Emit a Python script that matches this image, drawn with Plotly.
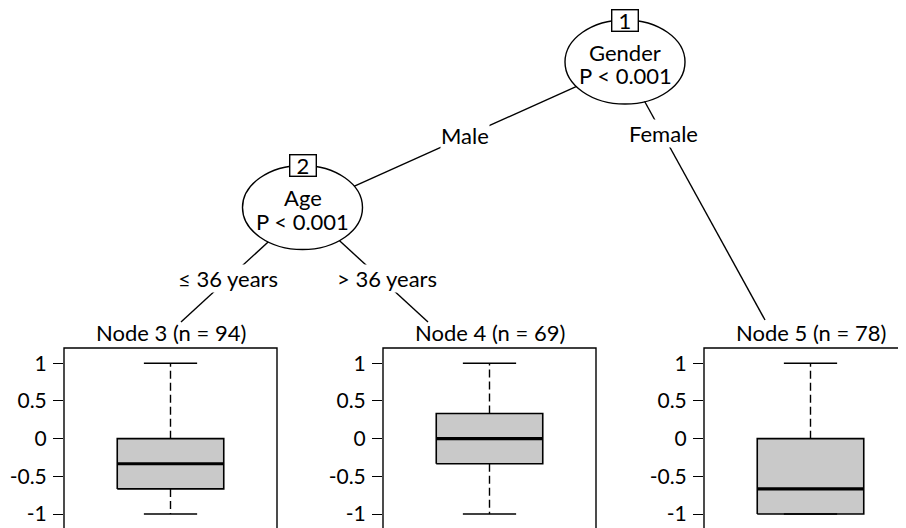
import plotly.graph_objects as go

# Terminal node summaries (response score, boxplot stats)
node_ids = [3, 4, 5]
node_n = [94, 69, 78]
whisk_lo = [-1.0, -1.0, -1.0]
q1 = [-0.667, -0.333, -1.0]
median = [-0.333, 0.0, -0.667]
q3 = [0.0, 0.333, 0.0]
whisk_hi = [1.0, 1.0, 1.0]

y_ticks = [-1, -0.5, 0, 0.5, 1]
y_ticktext = ["-1", "-0.5", "0", "0.5", "1"]

# Inner nodes: id, variable, p-value text
inner_ids = [1, 2]
inner_var = ["Gender", "Age"]
inner_p = ["P < 0.001", "P < 0.001"]

# Edge labels
edge_labels = ["Male", "Female", "\u2264 36 years", "> 36 years"]

# ---- layout geometry (page pixels; the page body has an 8px margin) ----
W, H = 906, 528
OFF = 8
FONT = "Lato"
FS = 22
inner_pos = [(625, 62), (302.5, 207.5)]   # ellipse centres
ell_rx, ell_ry = 60, 42
edge_seg = [((590, 80.4), (345, 190.4)),
            ((641.1, 95), (765, 320)),
            ((272.5, 238), (181, 322)),
            ((335.5, 237), (428, 322))]
edge_lab_pos = [(465, 135), (663, 133), (228, 278), (387, 278)]

panel_px = [(64, 277), (383, 596), (704, 917)]
panel_top = 348
px_per_unit_y = 75.35
y_top = 1 + (363.3 - panel_top) / px_per_unit_y
y_bot = -1 - (H + OFF - 514) / px_per_unit_y

fig = go.Figure()
ink = "black"
lw = 1.4

for i in range(3):
    xa = "x" if i == 0 else f"x{i+1}"
    ya = "y" if i == 0 else f"y{i+1}"
    # box body
    fig.add_trace(go.Scatter(
        x=[-0.5, 0.5, 0.5, -0.5, -0.5],
        y=[q1[i], q1[i], q3[i], q3[i], q1[i]],
        fill="toself", fillcolor="#c9c9c9", mode="lines",
        line=dict(color=ink, width=1.6), xaxis=xa, yaxis=ya, hoverinfo="skip"))
    # median
    fig.add_trace(go.Scatter(x=[-0.5, 0.5], y=[median[i], median[i]], mode="lines",
                             line=dict(color=ink, width=3.2), xaxis=xa, yaxis=ya))
    # whiskers (dashed)
    for a, b in [(q3[i], whisk_hi[i]), (q1[i], whisk_lo[i])]:
        if a != b:
            fig.add_trace(go.Scatter(x=[0, 0], y=[a, b], mode="lines",
                                     line=dict(color=ink, width=lw, dash="8px,4px"),
                                     xaxis=xa, yaxis=ya))
    # caps
    for v in (whisk_hi[i], whisk_lo[i]):
        fig.add_trace(go.Scatter(x=[-0.25, 0.25], y=[v, v], mode="lines",
                                 line=dict(color=ink, width=lw), xaxis=xa, yaxis=ya))

# tree edges on overlay axis
for (p0, p1) in edge_seg:
    fig.add_trace(go.Scatter(x=[p0[0], p1[0]], y=[p0[1], p1[1]], mode="lines",
                             line=dict(color=ink, width=lw), xaxis="x4", yaxis="y4"))

layout = dict(
    width=W, height=H, margin=dict(l=0, r=0, t=0, b=0),
    paper_bgcolor="white", plot_bgcolor="rgba(0,0,0,0)",
    showlegend=False, font=dict(family=FONT, size=FS, color=ink),
    xaxis4=dict(domain=[0, 1], range=[OFF, W + OFF], visible=False, anchor="y4"),
    yaxis4=dict(domain=[0, 1], range=[H + OFF, OFF], visible=False, anchor="x4"),
)
shapes = []
annotations = []
ydom = [0, 1 - (panel_top - OFF) / H]
for i, (l, r) in enumerate(panel_px):
    sfx = "" if i == 0 else str(i + 1)
    fl, fr = l - OFF, r - OFF
    xr = min(fr, W)
    units = 2 * (xr - fl) / (fr - fl)
    layout["xaxis" + sfx] = dict(domain=[fl / W, xr / W], range=[-1, -1 + units],
                                 visible=False, anchor="y" + sfx, fixedrange=True)
    layout["yaxis" + sfx] = dict(domain=ydom, range=[y_bot, y_top], anchor="x" + sfx,
                                 tickvals=y_ticks, ticktext=y_ticktext, ticks="outside",
                                 ticklen=10, tickwidth=lw, tickcolor=ink, showgrid=False,
                                 zeroline=False, showline=False, automargin=False,
                                 ticklabelstandoff=2,
                                 tickfont=dict(family=FONT, size=21, color=ink))
    x1 = 1 + (fr - xr) / (xr - fl)
    shapes.append(dict(type="rect", xref=f"x{sfx} domain", yref=f"y{sfx} domain",
                       x0=0, x1=x1, y0=-0.05, y1=1, line=dict(color=ink, width=lw),
                       fillcolor="rgba(0,0,0,0)"))
    annotations.append(dict(text=f"Node {node_ids[i]} (n = {node_n[i]})",
                            xref="x" + sfx, yref="y4", x=0, y=332.5,
                            showarrow=False, xanchor="center", yanchor="middle"))

for k, (cx, cy) in enumerate(inner_pos):
    shapes.append(dict(type="circle", xref="x4", yref="y4",
                       x0=cx - ell_rx, x1=cx + ell_rx, y0=cy - ell_ry, y1=cy + ell_ry,
                       line=dict(color=ink, width=lw), fillcolor="white", layer="above"))
    annotations.append(dict(text=inner_var[k], xref="x4", yref="y4", x=cx, y=cy - 10,
                            showarrow=False, yanchor="middle"))
    annotations.append(dict(text=inner_p[k], xref="x4", yref="y4", x=cx, y=cy + 13.5,
                            showarrow=False, yanchor="middle"))
    annotations.append(dict(text=str(inner_ids[k]), xref="x4", yref="y4", x=cx,
                            y=cy - ell_ry, showarrow=False, yanchor="middle",
                            bgcolor="white", bordercolor=ink, borderwidth=lw,
                            borderpad=0, width=25, height=20))

for lab, (lx, ly) in zip(edge_labels, edge_lab_pos):
    annotations.append(dict(text=lab, xref="x4", yref="y4", x=lx, y=ly,
                            showarrow=False, bgcolor="white", borderpad=0,
                            yanchor="middle"))

layout["shapes"] = shapes
layout["annotations"] = annotations
fig.update_layout(**layout)

fig.write_html("out.html")
